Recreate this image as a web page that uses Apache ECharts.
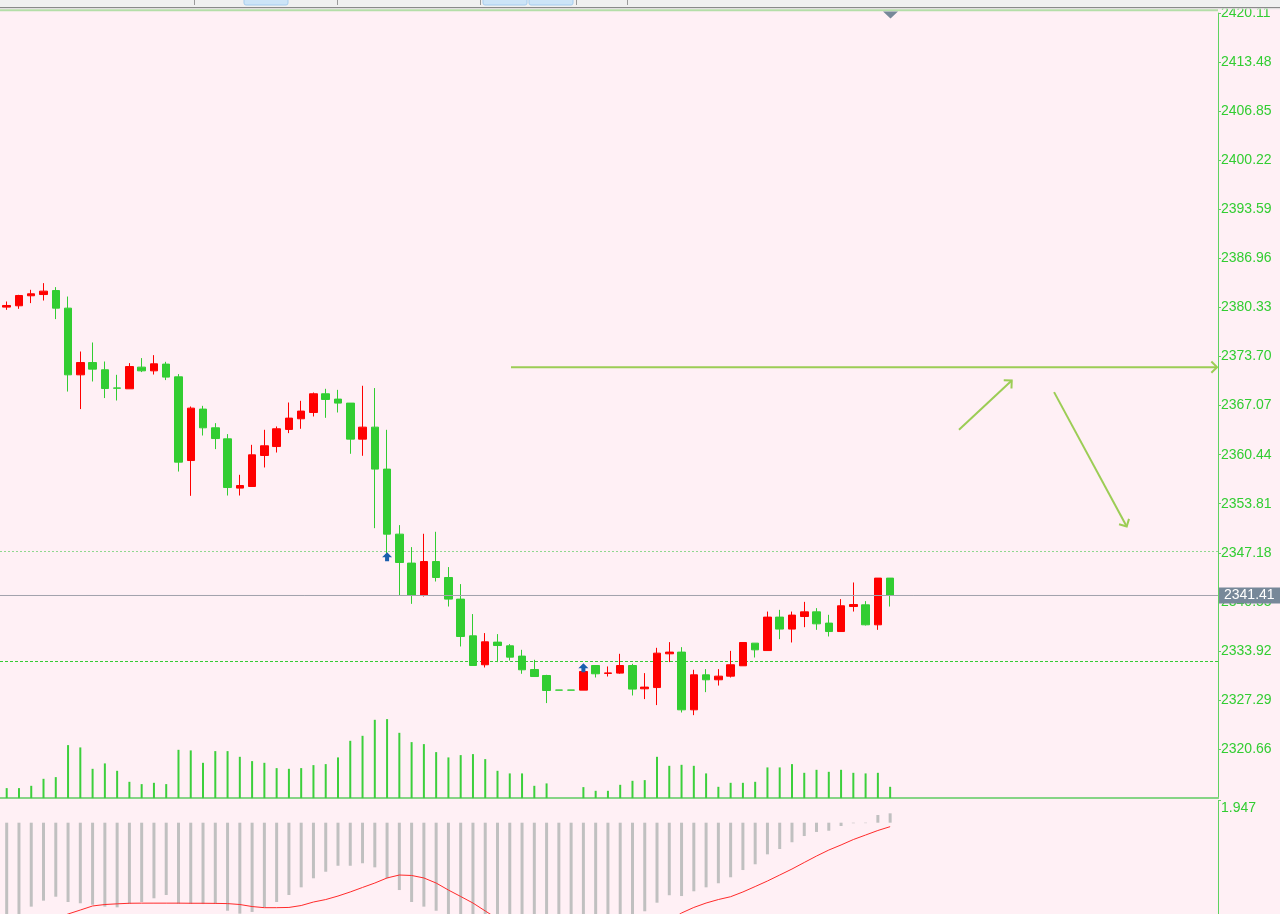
<!DOCTYPE html>
<html><head><meta charset="utf-8">
<script src="https://cdn.jsdelivr.net/npm/echarts@6/dist/echarts.min.js"></script>
<style>html,body{margin:0;padding:0;background:#fff0f5;overflow:hidden}#c{width:1280px;height:914px}</style>
</head><body><div id="c"></div><script>
// ---- data ----
const priceTicks = [2420.11, 2413.48, 2406.85, 2400.22, 2393.59, 2386.96, 2380.33, 2373.70, 2367.07, 2360.44, 2353.81, 2347.18, 2340.55, 2333.92, 2327.29, 2320.66];
const macdTicks = [1.947];
// [open, close, low, high]
const ohlc = [
[2380.38,2380.60,2380.01,2381.14],[2380.56,2381.95,2380.15,2382.04],[2381.91,2382.18,2380.92,2382.72],[2382.08,2382.54,2381.27,2383.62],
[2382.62,2380.24,2378.76,2383.08],[2380.24,2371.23,2368.97,2381.81],[2371.23,2372.89,2366.60,2374.38],[2372.89,2372.00,2370.33,2375.60],
[2371.91,2369.38,2368.09,2373.03],[2369.46,2369.42,2367.76,2371.23],[2369.34,2372.35,2369.34,2372.81],[2372.27,2371.77,2371.60,2373.49],
[2371.77,2372.72,2371.27,2373.89],[2372.68,2370.92,2370.52,2372.99],[2370.96,2359.43,2358.16,2371.33],[2359.65,2366.73,2354.88,2366.95],
[2366.60,2364.07,2363.03,2367.04],[2364.07,2362.62,2361.19,2364.70],[2362.58,2356.00,2354.92,2363.22],[2355.92,2356.27,2354.92,2357.72],
[2356.14,2360.42,2356.14,2361.77],[2360.33,2361.64,2358.71,2363.80],[2361.54,2363.94,2360.73,2364.25],[2363.85,2365.38,2363.35,2367.49],
[2365.29,2366.33,2363.94,2367.72],[2366.14,2368.67,2365.60,2368.84],[2368.67,2367.90,2365.42,2369.34],[2367.95,2367.41,2366.14,2369.20],
[2367.41,2362.54,2360.56,2367.41],[2362.54,2364.16,2360.29,2369.75],[2364.16,2358.49,2350.51,2369.44],[2358.49,2349.70,2347.13,2363.80],
[2349.70,2345.87,2341.46,2350.92],[2345.79,2341.43,2340.28,2347.95],[2341.41,2346.00,2341.27,2349.75],[2346.00,2343.84,2343.30,2350.02],
[2343.84,2340.92,2339.92,2345.25],[2340.92,2335.87,2334.52,2342.95],[2335.96,2331.95,2331.95,2338.90],[2332.05,2335.15,2331.68,2336.33],
[2335.11,2334.65,2332.41,2336.19],[2334.61,2333.08,2332.62,2334.84],[2333.22,2331.37,2330.83,2334.07],[2331.41,2330.46,2330.46,2332.72],
[2330.60,2328.57,2326.87,2330.69],[2328.63,2328.62,2328.62,2328.63],[2328.63,2328.62,2328.62,2328.63],[2328.62,2331.14,2328.62,2331.14],
[2331.95,2330.83,2330.33,2331.95],[2330.88,2330.95,2330.46,2331.82],[2330.92,2331.95,2330.83,2333.53],[2331.95,2328.76,2327.90,2332.18],
[2328.80,2329.03,2327.41,2330.92],[2328.97,2333.62,2326.60,2334.34],[2333.53,2333.76,2332.41,2335.11],[2333.76,2325.96,2325.60,2334.43],
[2325.96,2330.69,2325.24,2331.37],[2330.69,2330.02,2328.35,2331.46],[2330.02,2330.51,2329.24,2331.46],[2330.51,2332.05,2330.33,2333.93],
[2331.91,2335.06,2331.91,2335.06],[2334.97,2334.07,2333.03,2334.97],[2333.97,2338.49,2333.97,2339.24],[2338.49,2336.87,2335.51,2339.47],
[2336.87,2338.76,2335.06,2339.24],[2338.57,2339.20,2337.13,2340.55],[2339.20,2337.58,2336.77,2339.70],[2337.68,2336.54,2335.87,2338.80],
[2336.54,2340.02,2336.54,2340.92],[2339.92,2340.19,2339.24,2343.17],[2340.15,2337.45,2337.35,2340.65],[2337.45,2343.76,2336.77,2343.76],
[2343.76,2341.41,2339.92,2343.76]
];
const volume = [10,10,12.3,19.3,21,53,50.7,29.3,34.7,27.3,16.3,14,15.3,14,48.3,47.7,35.3,47,47,41.3,37,35.3,30,29.3,30,33,34,40.7,57.3,62.3,78.3,79,65.3,56,54,46,40.7,43,44,39,27.3,24.7,24.7,12.3,14.7,0,0,11,7.3,7.3,13.3,17.3,18,41.3,32.3,33.3,32.3,24.7,11.3,15.3,15.3,16.3,30.7,30.7,34,25.3,28.3,26.3,28.3,25.3,24.7,25.3,11.3];
const macdHist = [-9.5,-9.0,-7.43,-6.90,-6.55,-7.02,-7.13,-7.26,-7.43,-7.49,-7.19,-7.02,-6.69,-6.40,-7.17,-7.19,-7.20,-7.19,-7.79,-8.05,-7.90,-7.49,-7.02,-6.40,-5.72,-4.92,-4.34,-3.81,-3.81,-3.59,-3.95,-4.92,-5.96,-7.02,-7.43,-7.79,-8.5,-9.2,-10.1,-10.8,-11.6,-12.2,-12.8,-13.1,-13.3,-13.0,-12.6,-12.1,-11.5,-10.7,-9.9,-8.9,-7.84,-7.08,-6.42,-6.49,-6.07,-5.72,-5.36,-4.83,-4.19,-3.68,-2.80,-2.33,-1.73,-1.18,-0.82,-0.71,-0.29,-0.05,-0.04,0.68,0.83];
const macdSignal = [-9.9,-9.6,-9.3,-8.9,-8.5,-8.08,-7.73,-7.37,-7.24,-7.18,-7.13,-7.12,-7.12,-7.12,-7.12,-7.13,-7.13,-7.14,-7.16,-7.24,-7.42,-7.52,-7.52,-7.50,-7.33,-7.02,-6.80,-6.49,-6.13,-5.73,-5.34,-4.89,-4.63,-4.67,-4.89,-5.34,-5.96,-6.53,-7.11,-7.81,-8.5,-9.0,-9.6,-10.2,-10.7,-11.1,-11.4,-11.6,-11.6,-11.4,-11.1,-10.6,-10.0,-9.4,-8.7,-7.99,-7.50,-7.11,-6.80,-6.55,-6.13,-5.65,-5.16,-4.63,-4.10,-3.52,-2.95,-2.42,-1.97,-1.49,-1.09,-0.69,-0.35];
const bidPrice = 2341.41;
const levelLines = [2347.355, 2332.49];
const signalArrows = [[31, 2346.64], [47, 2331.64]];
// [x1, price1, x2, price2] in bar-index units
const trendArrows = [[41.10, 2372.27, 98.64, 2372.27], [77.61, 2363.80, 81.91, 2370.46], [85.36, 2368.89, 91.28, 2350.73]];

// ---- chart ----
const X_MIN = -0.546, X_MAX = 98.72;
const FONT = 'Liberation Sans';
const GREEN = '#32cd32', RED = '#ff0000';
const chart = echarts.init(document.getElementById('c'), null, {renderer: 'canvas'});

const candleData = ohlc.map((r, i) => [i, r[0], r[1], r[2], r[3]]);
const volData = volume.map((v, i) => [i, v]);
const histData = macdHist.map((v, i) => [i, v]);
const sigData = macdSignal.map((v, i) => [i, v]);

function hiddenX(gi) {
  return {type: 'value', gridIndex: gi, min: X_MIN, max: X_MAX, show: false};
}
function levelSeries(price, color, dash) {
  return {type: 'line', xAxisIndex: 0, yAxisIndex: 0, silent: true, symbol: 'none',
    data: [[X_MIN, price], [X_MAX, price]], color: color,
    lineStyle: {color: color, width: 1, type: dash}, z: 1};
}
const bidSeries = levelSeries(bidPrice, '#a3a3ad', 'solid');
bidSeries.markLine = {
  silent: true, symbol: 'none', animation: false,
  lineStyle: {color: '#a3a3ad', type: 'solid', width: 1},
  data: [{yAxis: bidPrice,
    label: {show: true, position: 'end', distance: 1, formatter: bidPrice.toFixed(2),
            backgroundColor: '#778899', color: '#ffffff', fontFamily: FONT, fontSize: 14,
            lineHeight: 14, padding: [1, 6, 1, 5]}}]
};

const option = {
  animation: false,
  backgroundColor: '#fff0f5',
  grid: [
    {left: 0, top: 13.11, width: 1218, height: 785},
    {left: 0, top: 698.11, width: 1218, height: 100},
    {left: 0, top: 800.7, width: 1218, height: 113.3}
  ],
  xAxis: [
    {type: 'value', gridIndex: 0, min: X_MIN, max: X_MAX,
     axisLine: {show: true, onZero: false, lineStyle: {color: '#86d486', width: 2}},
     axisTick: {show: false}, axisLabel: {show: false}, splitLine: {show: false}},
    hiddenX(1), hiddenX(2)
  ],
  yAxis: [
    {type: 'value', gridIndex: 0, position: 'right', min: 2314.03, max: 2420.11,
     axisLine: {show: true, onZero: false, lineStyle: {color: '#5fd35f', width: 1}},
     axisTick: {show: true, length: 3, customValues: priceTicks, lineStyle: {color: '#5fd35f'}},
     axisLabel: {customValues: priceTicks, margin: 3, color: GREEN, fontFamily: FONT, fontSize: 14,
                 formatter: v => v.toFixed(2)},
     splitLine: {show: false}},
    {type: 'value', gridIndex: 1, min: 0, max: 100, show: false},
    {type: 'value', gridIndex: 2, position: 'right', min: -8.08, max: 1.947,
     axisLine: {show: true, onZero: false, lineStyle: {color: '#5fd35f', width: 1}},
     axisTick: {show: true, length: 3, customValues: macdTicks, lineStyle: {color: '#5fd35f'}},
     axisLabel: {customValues: macdTicks, margin: 3, color: GREEN, fontFamily: FONT, fontSize: 14,
                 verticalAlign: 'top', formatter: v => v.toFixed(3)},
     splitLine: {show: false}}
  ],
  series: [
    levelSeries(levelLines[0], '#8fd88f', [2, 2]),
    levelSeries(levelLines[1], '#33cc33', [3, 2]),
    bidSeries,
    {type: 'bar', xAxisIndex: 1, yAxisIndex: 1, data: volData, barWidth: 2,
     itemStyle: {color: '#3ccf3c'}, silent: true},
    {type: 'candlestick', xAxisIndex: 0, yAxisIndex: 0, data: candleData, barWidth: 8,
     itemStyle: {color: RED, color0: GREEN, borderColor: RED, borderColor0: GREEN, borderWidth: 1},
     silent: true},
    {type: 'scatter', xAxisIndex: 0, yAxisIndex: 0, data: signalArrows,
     symbol: 'path://M5,0 L10,5 L7,5 L7,9 L3,9 L3,5 L0,5 Z', symbolSize: [10, 9],
     itemStyle: {color: '#1a5fae', opacity: 1}, silent: true},
    {type: 'custom', xAxisIndex: 0, yAxisIndex: 0, data: trendArrows, silent: true,
     encode: {x: [0, 2], y: [1, 3]},
     renderItem: (params, api) => {
       const a = api.coord([api.value(0), api.value(1)]);
       const b = api.coord([api.value(2), api.value(3)]);
       const ang = Math.atan2(b[1] - a[1], b[0] - a[0]);
       const L = 8, s = Math.PI * 0.75;
       const p1 = [b[0] + L * Math.cos(ang + s), b[1] + L * Math.sin(ang + s)];
       const p2 = [b[0] + L * Math.cos(ang - s), b[1] + L * Math.sin(ang - s)];
       const st = {stroke: '#9ccd55', lineWidth: 2, fill: null};
       return {type: 'group', children: [
         {type: 'line', shape: {x1: a[0], y1: a[1], x2: b[0], y2: b[1]}, style: st},
         {type: 'polyline', shape: {points: [p1, b, p2]}, style: st}
       ]};
     }},
    {type: 'bar', xAxisIndex: 2, yAxisIndex: 2, data: histData, barWidth: 3,
     itemStyle: {color: '#c0c0c0'}, silent: true},
    {type: 'line', xAxisIndex: 2, yAxisIndex: 2, data: sigData, symbol: 'none', silent: true,
     lineStyle: {color: '#ff2a2a', width: 1}}
  ],
  graphic: [
    {type: 'rect', z: 100, shape: {x: 0, y: 0, width: 1280, height: 7}, style: {fill: '#f0f0f0'}},
    {type: 'rect', z: 100, shape: {x: 0, y: 7, width: 1280, height: 1.3}, style: {fill: '#8a8a8a'}},
    {type: 'rect', z: 100, shape: {x: 0, y: 8.3, width: 1280, height: 1}, style: {fill: '#e2e2e2'}},
    {type: 'rect', z: 100, shape: {x: 0, y: 9.3, width: 1218, height: 2}, style: {fill: '#b4dea8'}},
    {type: 'rect', z: 101, shape: {x: 244, y: -2, width: 44, height: 7, r: 2}, style: {fill: '#cce4f7', stroke: '#a6cdee', lineWidth: 1}},
    {type: 'rect', z: 101, shape: {x: 483, y: -2, width: 44, height: 7, r: 2}, style: {fill: '#cce4f7', stroke: '#a6cdee', lineWidth: 1}},
    {type: 'rect', z: 101, shape: {x: 529, y: -2, width: 44, height: 7, r: 2}, style: {fill: '#cce4f7', stroke: '#a6cdee', lineWidth: 1}},
    {type: 'rect', z: 101, shape: {x: 194, y: 0, width: 1, height: 5}, style: {fill: '#9a9a9a'}},
    {type: 'rect', z: 101, shape: {x: 337, y: 0, width: 1, height: 5}, style: {fill: '#9a9a9a'}},
    {type: 'rect', z: 101, shape: {x: 480, y: 0, width: 1, height: 5}, style: {fill: '#9a9a9a'}},
    {type: 'rect', z: 101, shape: {x: 576, y: 0, width: 1, height: 5}, style: {fill: '#9a9a9a'}},
    {type: 'rect', z: 101, shape: {x: 627, y: 0, width: 1, height: 5}, style: {fill: '#9a9a9a'}},
    {type: 'polygon', z: 101, shape: {points: [[883, 11.5], [898, 11.5], [890.5, 18.5]]}, style: {fill: '#778899'}}
  ]
};
chart.setOption(option);
</script></body></html>
